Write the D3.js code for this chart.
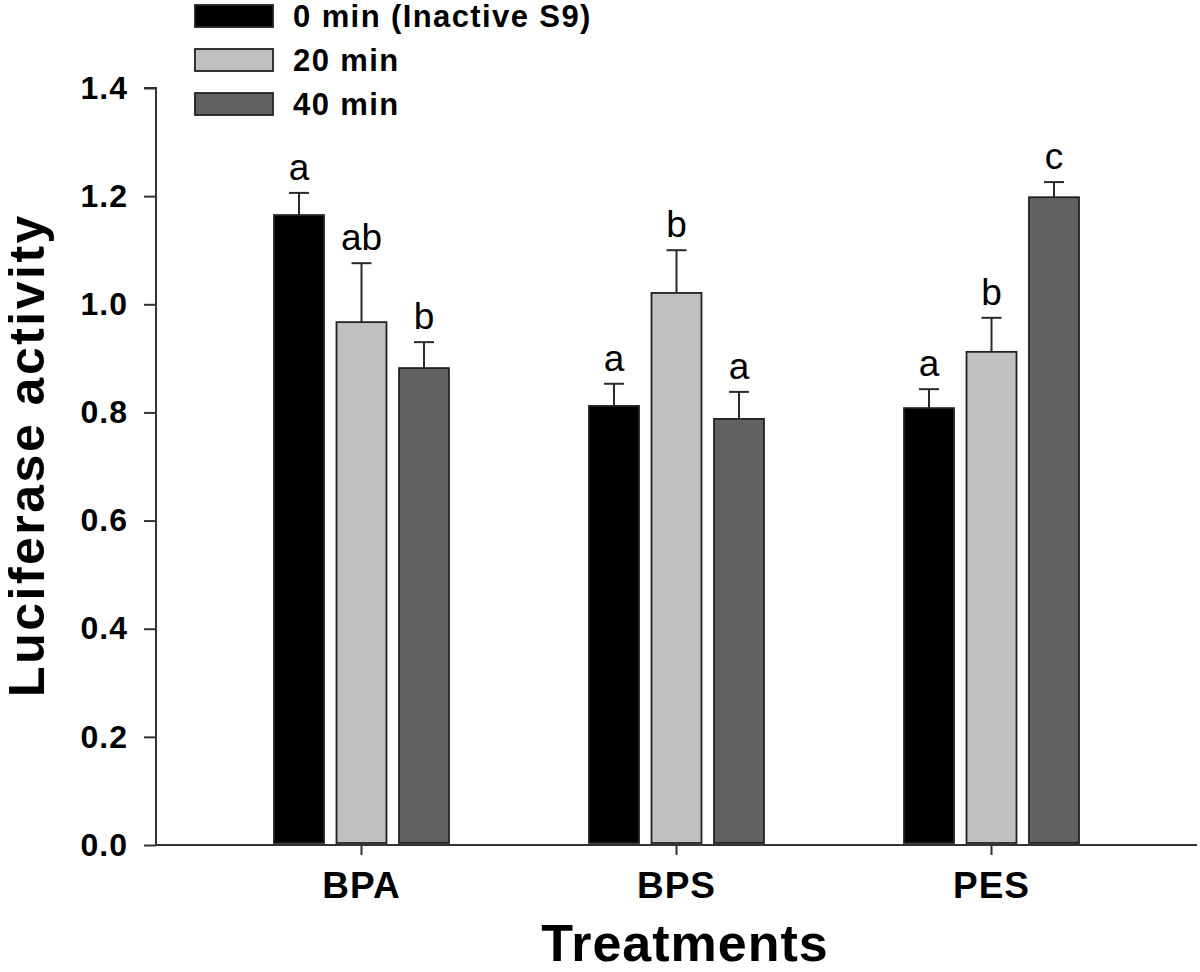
<!DOCTYPE html>
<html>
<head>
<meta charset="utf-8">
<script src="https://cdn.jsdelivr.net/npm/d3@7"></script>
<style>
  html, body { margin: 0; padding: 0; background: #fff; }
  svg { display: block; }
  text { font-family: "Liberation Sans", Arial, sans-serif; fill: #000; }
</style>
</head>
<body>
<svg id="chart" width="1200" height="972"></svg>
<script>
// ---- data ----
const categories = ["BPA", "BPS", "PES"];
const seriesNames = ["0 min (Inactive S9)", "20 min", "40 min"];
const seriesColors = ["#000000", "#c0c0c0", "#616161"];
const values0 = [1.165, 0.812, 0.808];
const values20 = [0.967, 1.021, 0.912];
const values40 = [0.882, 0.788, 1.198];
const errors0 = [0.041, 0.041, 0.035];
const errors20 = [0.109, 0.079, 0.063];
const errors40 = [0.048, 0.050, 0.028];
const letters0 = ["a", "a", "a"];
const letters20 = ["ab", "b", "b"];
const letters40 = ["b", "a", "c"];
const yTicks = [0.0, 0.2, 0.4, 0.6, 0.8, 1.0, 1.2, 1.4];

const seriesValues = [values0, values20, values40];
const seriesErrors = [errors0, errors20, errors40];
const seriesLetters = [letters0, letters20, letters40];

const svg = d3.select("#chart");

const axisLeftX = 156, axisRightX = 1197;
const y = d3.scaleLinear().domain([0, 1.4]).range([845, 88]);
const x0 = d3.scaleBand().domain(categories).range([axisLeftX + 48, axisRightX - 48]).paddingInner(0).paddingOuter(0);
const x1 = d3.scaleBand().domain(d3.range(3)).range([-93.75, 93.75]).paddingInner(0.2).paddingOuter(0.1);

const rows = [];
categories.forEach((c, ci) => {
  seriesValues.forEach((vals, si) => {
    rows.push({cat: c, s: si, v: vals[ci], e: seriesErrors[si][ci], l: seriesLetters[si][ci]});
  });
});

// error bars (upper only)
const capW = 20;
const eb = svg.append("g").attr("stroke", "#2a2a2a").attr("stroke-width", 2);
rows.forEach(d => {
  const cx = x0(d.cat) + x0.bandwidth() / 2 + x1(d.s) + x1.bandwidth() / 2;
  eb.append("line").attr("x1", cx).attr("x2", cx).attr("y1", y(d.v)).attr("y2", y(d.v + d.e));
  eb.append("line").attr("x1", cx - capW / 2).attr("x2", cx + capW / 2).attr("y1", y(d.v + d.e)).attr("y2", y(d.v + d.e));
});

// bars
svg.append("g").selectAll("rect").data(rows).join("rect")
  .attr("x", d => x0(d.cat) + x0.bandwidth() / 2 + x1(d.s))
  .attr("y", d => y(d.v))
  .attr("width", x1.bandwidth())
  .attr("height", d => y(0) - y(d.v) - 2)
  .attr("fill", d => seriesColors[d.s])
  .attr("stroke", "#222")
  .attr("stroke-width", 1.8);

// letters
svg.append("g").selectAll("text").data(rows).join("text")
  .attr("x", d => x0(d.cat) + x0.bandwidth() / 2 + x1(d.s) + x1.bandwidth() / 2)
  .attr("y", d => y(d.v + d.e) - 13)
  .attr("text-anchor", "middle")
  .style("font-size", "37px")
  .text(d => d.l);

// y axis
const yAxis = d3.axisLeft(y).tickValues(yTicks).tickFormat(d3.format(".1f")).tickSize(12).tickPadding(16);
const gy = svg.append("g").attr("transform", `translate(${axisLeftX},0)`).call(yAxis);
gy.select(".domain").attr("stroke", "#333").attr("stroke-width", 2).attr("d", `M-12,${y(1.4)}H0V${y(0)}`);
gy.selectAll(".tick line").attr("stroke", "#333").attr("stroke-width", 2);
gy.selectAll(".tick text").style("font-size", "32px").style("font-weight", "bold").style("letter-spacing", "1px")
  .style("font-family", "'Liberation Sans', Arial, sans-serif").attr("fill", "#000");

// x axis
const xAxis = d3.axisBottom(x0).tickSize(10).tickPadding(14);
const gx = svg.append("g").attr("transform", `translate(0,${y(0)})`).call(xAxis);
gx.select(".domain").attr("stroke", "#333").attr("stroke-width", 2).attr("d", `M${axisLeftX},0H${axisRightX}`);
gx.selectAll(".tick line").attr("stroke", "#333").attr("stroke-width", 2);
gx.selectAll(".tick text").style("font-size", "37px").style("font-weight", "bold").style("letter-spacing", "1px")
  .style("font-family", "'Liberation Sans', Arial, sans-serif").attr("fill", "#000")
  .attr("dy", null).attr("y", 53);

// axis titles
svg.append("text")
  .attr("transform", `translate(44,455) rotate(-90)`)
  .attr("text-anchor", "middle")
  .style("font-size", "50px").style("font-weight", "bold").style("letter-spacing", "2.5px")
  .text("Luciferase activity");

svg.append("text")
  .attr("x", 685).attr("y", 961)
  .attr("text-anchor", "middle")
  .style("font-size", "52px").style("font-weight", "bold").style("letter-spacing", "1px")
  .text("Treatments");

// legend
const legend = svg.append("g");
seriesNames.forEach((name, i) => {
  const base = 27 + i * 44;
  legend.append("rect").attr("x", 195).attr("y", base - 22).attr("width", 78).attr("height", 22)
    .attr("fill", seriesColors[i]).attr("stroke", "#222").attr("stroke-width", 1.8);
  legend.append("text").attr("x", 293).attr("y", base)
    .style("font-size", "31px").style("font-weight", "bold").style("letter-spacing", "1.4px")
    .text(name);
});
</script>
</body>
</html>
